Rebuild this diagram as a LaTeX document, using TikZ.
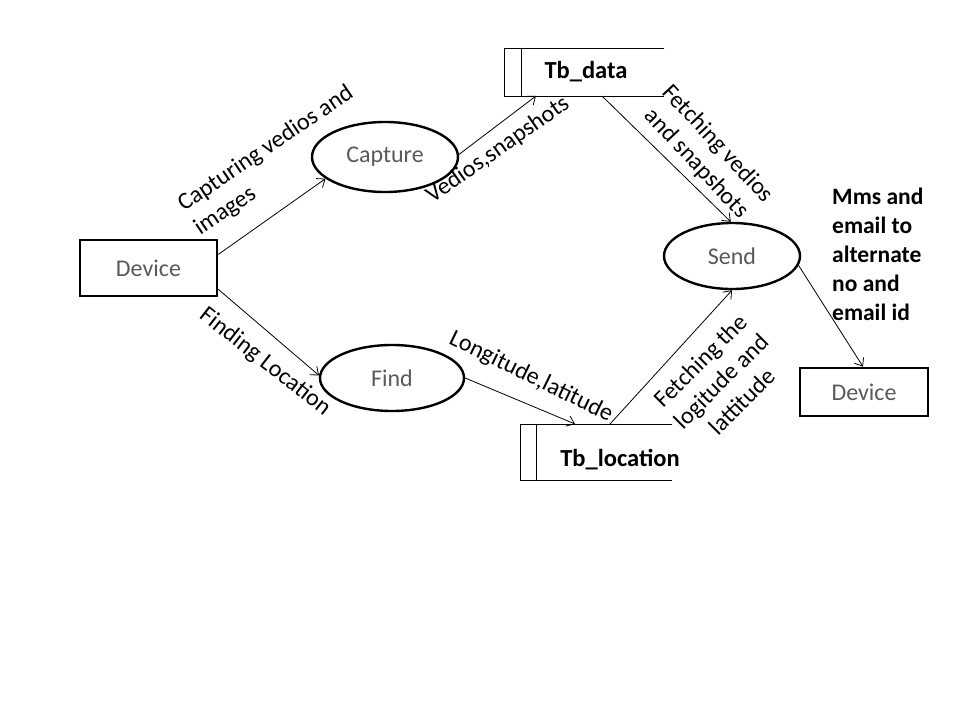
\documentclass[tikz,border=0pt]{standalone}
\usepackage{fontspec}
\setmainfont{Carlito}
\usetikzlibrary{arrows,arrows.meta,shapes.geometric}

\tikzset{
  proc/.style={draw,ellipse,line width=2.4pt,inner sep=0pt,text=black!65},
  ext/.style={draw,rectangle,line width=2.6pt,inner sep=0pt,text=black!65},
  store/.style={rectangle,inner sep=0pt,outer sep=0pt,font=\fontsize{24.5}{29}\selectfont\bfseries},
  flow/.style={-{Straight Barb[length=7pt,width=11pt]},line width=0.8pt},
  lbl/.style={align=center,inner sep=0pt},
}

\begin{document}
\begin{tikzpicture}[x=1pt,y=-1pt,font=\fontsize{24}{29}\selectfont]
\useasboundingbox (0,0) rectangle (960,720);

 \draw (148.5,268) node[ext,minimum width=137pt,minimum height=56pt] (devA) {Device};
 \draw (385,157) node[proc,minimum width=146pt,minimum height=70pt] (capture) {Capture};
 \draw (392,378) node[proc,minimum width=144pt,minimum height=66pt] (find) {Find};
 \draw (732,256) node[proc,minimum width=136pt,minimum height=66pt] (send) {Send};
 \draw (864,392) node[ext,minimum width=128pt,minimum height=48pt] (devB) {Device};
 \draw (584,72) node[store,minimum width=160pt,minimum height=48pt] (tbdata) {\hspace*{4pt}Tb\_data};
 \draw (596,452) node[store,minimum width=152pt,minimum height=56pt] (tbloc) {};
 \draw (620,460) node[store] (tbloctext) {Tb\_location};

 % data stores
 \draw[line width=1pt] (tbdata.north east) -- (tbdata.north west) -- (tbdata.south west) -- (tbdata.south east);
 \draw[line width=1pt] ([xshift=17pt]tbdata.north west) -- ([xshift=17pt]tbdata.south west);
 \draw[line width=1pt] (tbloc.north east) -- (tbloc.north west) -- (tbloc.south west) -- (tbloc.south east);
 \draw[line width=1pt] ([xshift=16pt]tbloc.north west) -- ([xshift=16pt]tbloc.south west);

 % flows
 \draw[flow] (devA.11.5) -- (capture.200);
 \draw[flow] (devA.-17.8) -- (find.178);
 \draw[flow] (capture.2) -- ([xshift=-48pt]tbdata.south);
 \draw[flow] (find.east) -- ([xshift=-21pt]tbloc.north);
 \draw[flow] ([xshift=18pt]tbdata.south) -- (send.92);
 \draw[flow] ([xshift=14pt]tbloc.north) -- (send.south);
 \draw[flow] (send.-8) -- ([xshift=-1pt]devB.north);

 % labels
 \draw (274,161) node[lbl,align=left,rotate=34] (capt) {Capturing vedios and\\images};
 \draw (265,362) node[lbl,rotate=-38] (findlbl) {Finding Location};
 \draw (498,150) node[lbl,rotate=35] (vedlbl) {Vedios,snapshots};
 \draw (531,377) node[lbl,rotate=-26] (longlbl) {Longitude,latitude};
 \draw (707,154) node[lbl,rotate=-47] (fetchv) {Fetching vedios\\and snapshots};
 \draw (721,381) node[lbl,rotate=45] (fetchl) {Fetching the\\logitude and\\lattitude};
 \draw (832,254) node[lbl,align=left,anchor=west,font=\fontsize{23.5}{29}\selectfont\bfseries] (mms) {Mms and\\email to\\alternate\\no and\\email id};

\end{tikzpicture}
\end{document}
